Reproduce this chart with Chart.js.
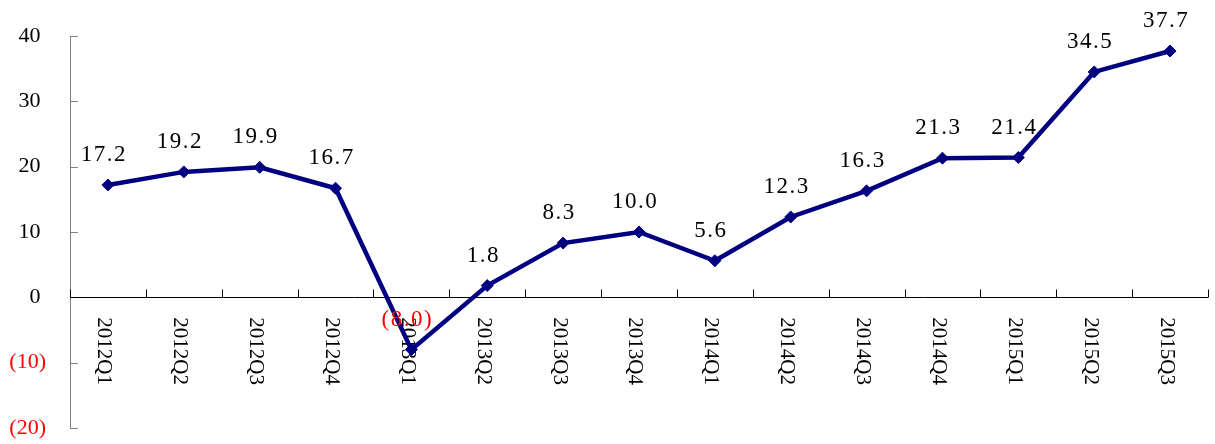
<!DOCTYPE html>
<html>
<head>
<meta charset="utf-8">
<script src="https://cdn.jsdelivr.net/npm/chart.js@4"></script>
<style>
  html, body { margin: 0; padding: 0; background: #ffffff; overflow: hidden; }
  canvas { display: block; }
</style>
</head>
<body>
<canvas id="c" width="1215" height="444" style="width:1215px;height:444px"></canvas>
<script>
const categories = ['2012Q1','2012Q2','2012Q3','2012Q4','2013Q1','2013Q2','2013Q3','2013Q4','2014Q1','2014Q2','2014Q3','2014Q4','2015Q1','2015Q2','2015Q3'];
const growth = [17.2, 19.2, 19.9, 16.7, -8.0, 1.8, 8.3, 10.0, 5.6, 12.3, 16.3, 21.3, 21.4, 34.5, 37.7];
const yMin = -20, yMax = 40, yStep = 10;

const SERIF = '"Liberation Serif", "Times New Roman", serif';
const NAVY = '#000080';

function fmt(v) {
  const s = Math.abs(v).toFixed(1);
  return v < 0 ? '(' + s + ')' : s;
}

const axesPlugin = {
  id: 'axesPlugin',
  beforeDatasetsDraw(chart) {
    const ctx = chart.ctx;
    const xs = chart.scales.x, ys = chart.scales.y;
    const area = chart.chartArea;
    const y0 = ys.getPixelForValue(0);
    ctx.save();
    ctx.strokeStyle = '#808080';
    ctx.lineWidth = 1;
    ctx.beginPath();
    ctx.moveTo(area.left + 0.5, area.top);
    ctx.lineTo(area.left + 0.5, area.bottom);
    ys.ticks.forEach(t => {
      const py = Math.round(ys.getPixelForValue(t.value)) + 0.5;
      ctx.moveTo(area.left, py);
      ctx.lineTo(area.left + 8, py);
    });
    ctx.stroke();
    ctx.strokeStyle = '#000000';
    ctx.beginPath();
    const yl = Math.round(y0) + 0.5;
    ctx.moveTo(area.left, yl);
    ctx.lineTo(area.right, yl);
    const half = (xs.getPixelForValue(1) - xs.getPixelForValue(0)) / 2;
    for (let i = 0; i <= categories.length; i++) {
      const px = Math.round(xs.getPixelForValue(i) - half) + 0.5;
      ctx.moveTo(px, yl);
      ctx.lineTo(px, yl - 8);
    }
    ctx.stroke();
    ctx.fillStyle = '#000000';
    ctx.font = '21px ' + SERIF;
    ctx.textAlign = 'left';
    ctx.textBaseline = 'middle';
    categories.forEach((c, i) => {
      const px = xs.getPixelForValue(i) - 4;
      ctx.save();
      ctx.translate(px, y0 + 20);
      ctx.rotate(Math.PI / 2);
      ctx.fillText(c, 0, 0);
      ctx.restore();
    });
    ctx.restore();
  },
  afterDatasetsDraw(chart) {
    const ctx = chart.ctx;
    const meta = chart.getDatasetMeta(0);
    ctx.save();
    ctx.font = '23px ' + SERIF;
    try { ctx.letterSpacing = '1.5px'; } catch (e) {}
    ctx.textAlign = 'center';
    ctx.textBaseline = 'middle';
    meta.data.forEach((pt, i) => {
      const v = growth[i];
      ctx.fillStyle = v < 0 ? '#ff0000' : '#000000';
      ctx.fillText(fmt(v), pt.x - 4, pt.y - 30);
    });
    ctx.restore();
  }
};

new Chart(document.getElementById('c'), {
  type: 'line',
  data: {
    labels: categories,
    datasets: [{
      data: growth,
      borderColor: NAVY,
      backgroundColor: NAVY,
      borderWidth: 4.5,
      tension: 0,
      pointStyle: 'rectRot',
      pointRadius: 6,
      pointBackgroundColor: NAVY,
      pointBorderColor: NAVY,
      pointBorderWidth: 1,
      fill: false
    }]
  },
  options: {
    responsive: false,
    maintainAspectRatio: false,
    animation: false,
    events: [],
    layout: { padding: { top: 36, bottom: 16, left: 0, right: 2 } },
    plugins: { legend: { display: false }, tooltip: { enabled: false } },
    scales: {
      x: {
        type: 'category',
        offset: true,
        display: false
      },
      y: {
        min: yMin,
        max: yMax,
        border: { display: false },
        grid: { display: false, drawTicks: false },
        afterFit(scale) { scale.width = 70; scale.paddingTop = 0; scale.paddingBottom = 0; },
        ticks: {
          stepSize: yStep,
          padding: 24,
          font: { family: SERIF, size: 22 },
          color: ctx => (ctx.tick && ctx.tick.value < 0) ? '#ff0000' : '#000000',
          callback: v => v < 0 ? '(' + Math.abs(v) + ')' : v + ' '
        }
      }
    }
  },
  plugins: [axesPlugin]
});
</script>
</body>
</html>
